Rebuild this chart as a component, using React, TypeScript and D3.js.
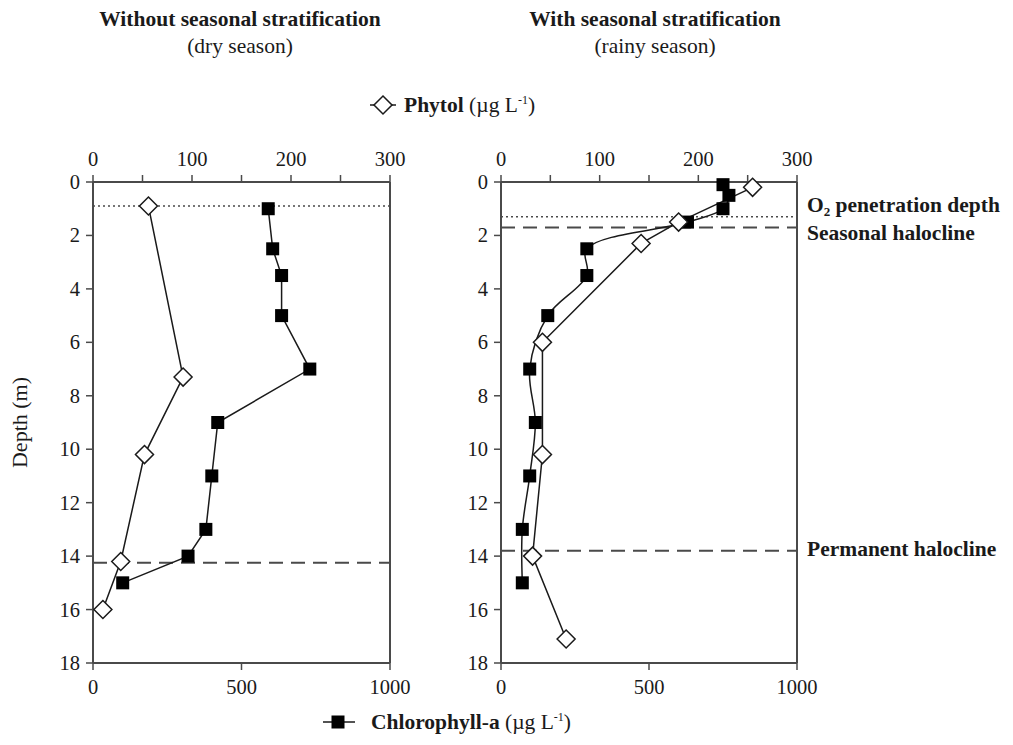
import React from 'react';
import * as d3 from 'd3';

// ---- data ----
const depthTicks = [0, 2, 4, 6, 8, 10, 12, 14, 16, 18];
const phytolTicks = [0, 50, 100, 150, 200, 250, 300];
const phytolLabels = [0, 100, 200, 300];
const chlTicks = [0, 500, 1000];

const dryPhytolDepth = [0.9, 7.3, 10.2, 14.2, 16.0];
const dryPhytolValue = [56, 91, 52, 28, 10];
const dryChlDepth = [1.0, 2.5, 3.5, 5.0, 7.0, 9.0, 11.0, 13.0, 14.0, 15.0];
const dryChlValue = [590, 605, 635, 635, 730, 420, 400, 380, 320, 100];

const rainyPhytolDepth = [0.2, 1.5, 2.3, 6.0, 10.2, 14.0, 17.1];
const rainyPhytolValue = [255, 180, 142, 42, 42, 32, 66];
const rainyChlDepth = [0.1, 0.5, 1.0, 1.5, 2.5, 3.5, 5.0, 7.0, 9.0, 11.0, 13.0, 15.0];
const rainyChlValue = [750, 770, 750, 630, 290, 290, 158, 97, 116, 97, 72, 72];

const dryDotted = [0.9];
const dryDashed = [14.25];
const rainyDotted = [1.3];
const rainyDashed = [1.7, 13.8];

const titles = ['Without seasonal stratification', 'With seasonal stratification'];
const subtitles = ['(dry season)', '(rainy season)'];

const FONT = '"Liberation Serif", "Times New Roman", serif';
const AX = '#4a4a4a';
const INK = '#1a1a1a';

type PanelProps = {
  x0: number;
  x1: number;
  phD: number[];
  phV: number[];
  chD: number[];
  chV: number[];
  dotted: number[];
  dashed: number[];
  smoothChl: boolean;
};

const yTop = 182;
const yBot = 663;
const yScale = d3.scaleLinear().domain([0, 18]).range([yTop, yBot]);
const TICK_FS = 20.5;

function Diamond({ x, y }: { x: number; y: number }) {
  const r = 9;
  return (
    <path
      d={`M${x},${y - r}L${x + r},${y}L${x},${y + r}L${x - r},${y}Z`}
      fill="#fff"
      stroke={INK}
      strokeWidth={1.5}
    />
  );
}

function Square({ x, y }: { x: number; y: number }) {
  const s = 13;
  return <rect x={x - s / 2} y={y - s / 2} width={s} height={s} fill="#000" />;
}

function Panel({ x0, x1, phD, phV, chD, chV, dotted, dashed, smoothChl }: PanelProps) {
  const xPh = d3.scaleLinear().domain([0, 300]).range([x0, x1]);
  const xCh = d3.scaleLinear().domain([0, 1000]).range([x0, x1]);
  const phPts: [number, number][] = phD.map((d, i) => [xPh(phV[i]), yScale(d)]);
  const chPts: [number, number][] = chD.map((d, i) => [xCh(chV[i]), yScale(d)]);
  const linePh = d3.line().curve(d3.curveLinear);
  const lineCh = d3.line().curve(smoothChl ? d3.curveCatmullRom.alpha(0.5) : d3.curveLinear);
  return (
    <g>
      {dotted.map((d, i) => (
        <line key={'dt' + i} x1={x0} x2={x1} y1={yScale(d)} y2={yScale(d)} stroke={AX} strokeWidth={1.6} strokeDasharray="2,3" />
      ))}
      {dashed.map((d, i) => (
        <line key={'ds' + i} x1={x0} x2={x1} y1={yScale(d)} y2={yScale(d)} stroke={AX} strokeWidth={2} strokeDasharray="14,8" />
      ))}
      <line x1={x0} x2={x1} y1={yTop} y2={yTop} stroke={AX} strokeWidth={2} />
      <line x1={x0} x2={x1} y1={yBot} y2={yBot} stroke={AX} strokeWidth={2} />
      <line x1={x0} x2={x0} y1={yTop} y2={yBot} stroke={AX} strokeWidth={2} />
      <line x1={x1} x2={x1} y1={yTop} y2={yBot} stroke={AX} strokeWidth={2} />
      {phytolTicks.map((t) => (
        <line key={'pt' + t} x1={xPh(t)} x2={xPh(t)} y1={yTop} y2={yTop - 7} stroke={AX} strokeWidth={1.5} />
      ))}
      {phytolLabels.map((t) => (
        <text key={'pl' + t} x={xPh(t)} y={yTop - 16} textAnchor="middle" fontFamily={FONT} fontSize={TICK_FS} fill={INK}>
          {t}
        </text>
      ))}
      {chlTicks.map((t) => (
        <g key={'ct' + t}>
          <line x1={xCh(t)} x2={xCh(t)} y1={yBot} y2={yBot + 7} stroke={AX} strokeWidth={1.5} />
          <text x={xCh(t)} y={yBot + 31} textAnchor="middle" fontFamily={FONT} fontSize={TICK_FS} fill={INK}>
            {t}
          </text>
        </g>
      ))}
      {depthTicks.map((t) => (
        <g key={'dt' + t}>
          <line x1={x0 - 7} x2={x0} y1={yScale(t)} y2={yScale(t)} stroke={AX} strokeWidth={1.5} />
          <text x={x0 - 13} y={yScale(t) + 7} textAnchor="end" fontFamily={FONT} fontSize={TICK_FS} fill={INK}>
            {t}
          </text>
        </g>
      ))}
      <path d={linePh(phPts) || ''} fill="none" stroke={INK} strokeWidth={1.5} />
      <path d={lineCh(chPts) || ''} fill="none" stroke={INK} strokeWidth={1.5} />
      {chPts.map((p, i) => (
        <Square key={'sq' + i} x={p[0]} y={p[1]} />
      ))}
      {phPts.map((p, i) => (
        <Diamond key={'dm' + i} x={p[0]} y={p[1]} />
      ))}
    </g>
  );
}

export default function App() {
  const panels = [
    { x0: 93, x1: 390 },
    { x0: 501, x1: 797 },
  ];
  const titleCx = [240, 655];
  const FS = 21.5;
  return (
    <svg width={1013} height={745} style={{ position: 'absolute', left: 0, top: 0, background: '#fff' }}>
      <rect width={1013} height={745} fill="#fff" />
      {titles.map((t, i) => (
        <g key={'t' + i}>
          <text x={titleCx[i]} y={26} textAnchor="middle" fontFamily={FONT} fontWeight="bold" fontSize={FS} fill={INK}>
            {t}
          </text>
          <text x={titleCx[i]} y={53} textAnchor="middle" fontFamily={FONT} fontSize={FS} fill={INK}>
            {subtitles[i]}
          </text>
        </g>
      ))}
      <g>
        <line x1={370} x2={396} y1={105} y2={105} stroke={INK} strokeWidth={1.5} />
        <Diamond x={383} y={105} />
        <text x={404} y={112} fontFamily={FONT} fontSize={FS} fill={INK}>
          <tspan fontWeight="bold">Phytol</tspan>
          <tspan> (µg L</tspan>
          <tspan fontSize={12} dy={-8}>-1</tspan>
          <tspan dy={8}>)</tspan>
        </text>
      </g>
      <Panel {...panels[0]} phD={dryPhytolDepth} phV={dryPhytolValue} chD={dryChlDepth} chV={dryChlValue} dotted={dryDotted} dashed={dryDashed} smoothChl={false} />
      <Panel {...panels[1]} phD={rainyPhytolDepth} phV={rainyPhytolValue} chD={rainyChlDepth} chV={rainyChlValue} dotted={rainyDotted} dashed={rainyDashed} smoothChl={true} />
      <text transform={`translate(27,${(yTop + yBot) / 2}) rotate(-90)`} textAnchor="middle" fontFamily={FONT} fontSize={22} fill={INK}>
        Depth (m)
      </text>
      <text x={807} y={212} fontFamily={FONT} fontWeight="bold" fontSize={FS} fill={INK}>
        O<tspan fontSize={13} dy={4}>2</tspan>
        <tspan dy={-4}> penetration depth</tspan>
      </text>
      <text x={807} y={240} fontFamily={FONT} fontWeight="bold" fontSize={FS} fill={INK}>
        Seasonal halocline
      </text>
      <text x={807} y={556} fontFamily={FONT} fontWeight="bold" fontSize={FS} fill={INK}>
        Permanent halocline
      </text>
      <g>
        <line x1={323} x2={355} y1={722} y2={722} stroke={INK} strokeWidth={1.5} />
        <Square x={338} y={722} />
        <text x={371} y={729} fontFamily={FONT} fontSize={FS} fill={INK}>
          <tspan fontWeight="bold">Chlorophyll-a</tspan>
          <tspan> (µg L</tspan>
          <tspan fontSize={12} dy={-8}>-1</tspan>
          <tspan dy={8}>)</tspan>
        </text>
      </g>
    </svg>
  );
}
